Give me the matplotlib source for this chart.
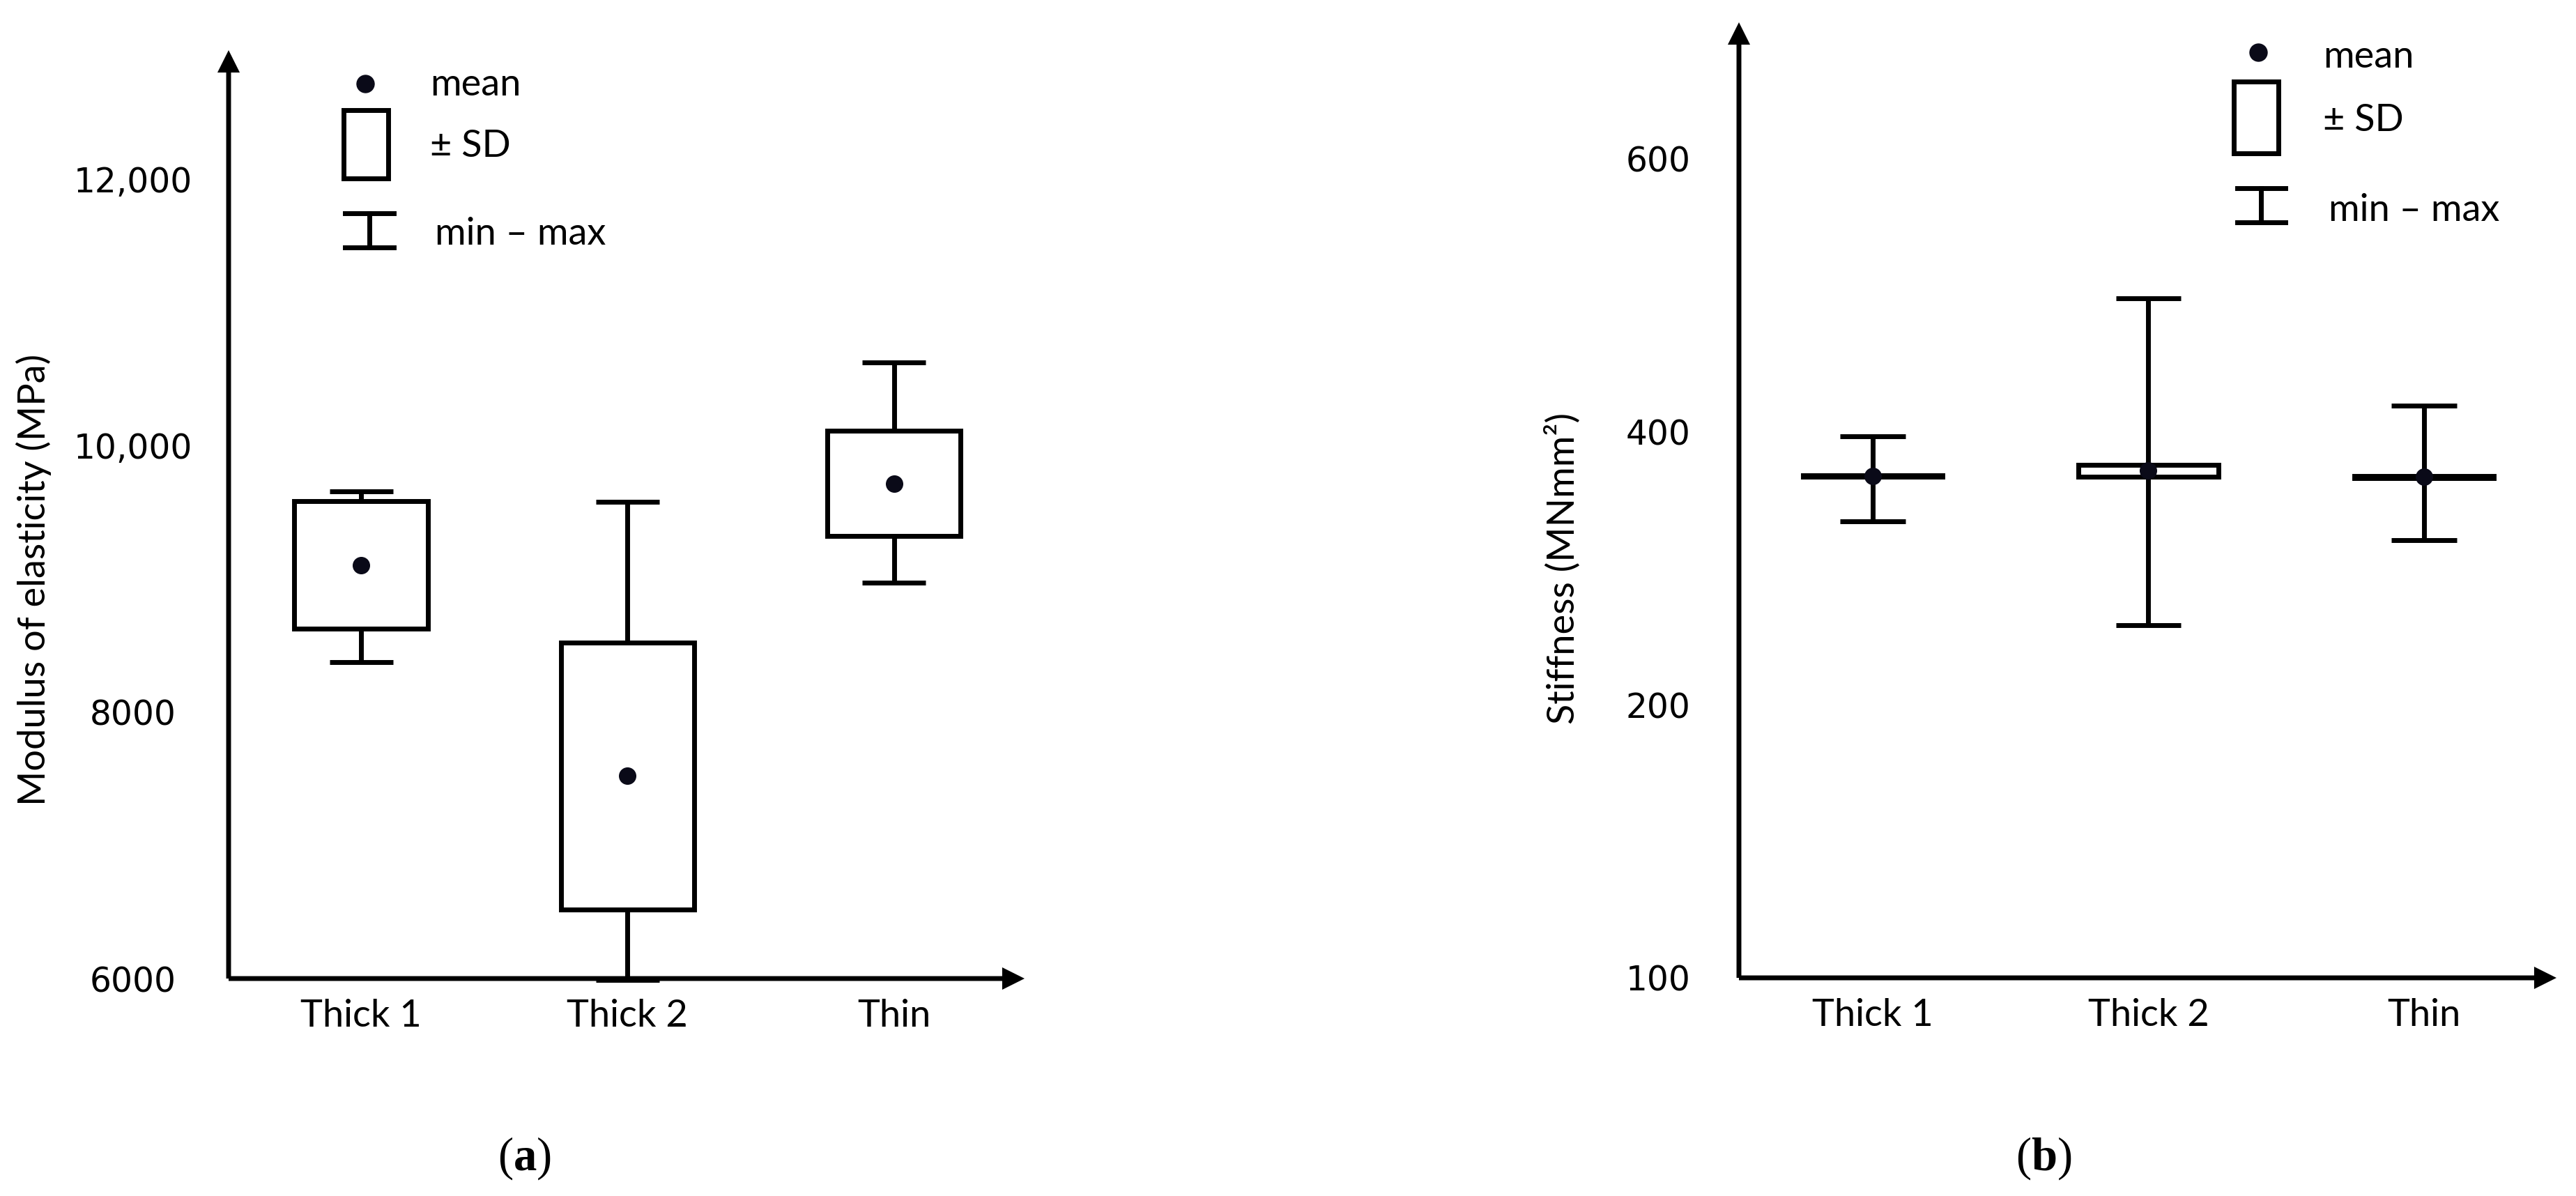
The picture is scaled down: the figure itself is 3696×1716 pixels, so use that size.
import numpy as np
import matplotlib
matplotlib.use("Agg")
import matplotlib.pyplot as plt

# ---------------- data ----------------
categories = ["Thick 1", "Thick 2", "Thin"]

# (a) Modulus of elasticity (MPa)
moe_mean = [9102, 7521, 9713]
moe_sd = [478, 1001, 395]
moe_min = [8372, 5990, 8972]
moe_max = [9653, 9578, 10624]
moe_ticks = [6000, 8000, 10000, 12000]
moe_ticklabels = ["6000", "8000", "10,000", "12,000"]

# (b) Stiffness (MNmm²)
stf_mean = [367.5, 371.5, 367.0]
stf_sd = [0.4, 4.2, 0.8]
stf_min = [334.2, 258.5, 320.5]
stf_max = [396.6, 498.0, 419.0]
stf_ticks = [100, 200, 400, 600]
stf_ticklabels = ["100", "200", "400", "600"]

legend_labels = ["mean", "± SD", "min – max"]
panel_labels = ["a", "b"]

# ---------------- style ----------------
plt.rcParams["font.family"] = ["Lato", "DejaVu Sans"]
plt.rcParams["mathtext.fontset"] = "custom"
plt.rcParams["mathtext.rm"] = "Liberation Serif"
plt.rcParams["mathtext.bf"] = "Liberation Serif:bold"

LW = 5
TXT = 39
NUM = 35
DOT = "#0a0a18"

W, H = 3696, 1716
fig = plt.figure(figsize=(W / 100, H / 100), dpi=100)


def px_axes(x0, x1, ytop, ybot):
    return fig.add_axes([x0 / W, (H - ybot) / H, (x1 - x0) / W, (ybot - ytop) / H])


def draw_axes_arrows(ax):
    for s in ax.spines.values():
        s.set_visible(False)
    ap = dict(arrowstyle="-|>,head_length=0.5,head_width=0.25", lw=LW, color="black",
              shrinkA=0, shrinkB=0, mutation_scale=30, joinstyle="miter", capstyle="butt")
    ax.annotate("", xy=(0, 1), xytext=(0, 0), xycoords="axes fraction",
                textcoords="axes fraction", arrowprops=ap, annotation_clip=False, zorder=1)
    ax.annotate("", xy=(1, 0), xytext=(0, 0), xycoords="axes fraction",
                textcoords="axes fraction", arrowprops=ap, annotation_clip=False, zorder=1)


def draw_panel(ax, mean, sd, mn, mx, box_w, cap_w):
    x = np.arange(1, len(categories) + 1)
    mean = np.asarray(mean, float)
    sd = np.asarray(sd, float)
    lo = mean - sd
    hi = mean + sd
    ax.vlines(x, mn, lo, colors="black", lw=LW, zorder=3, clip_on=False)
    ax.vlines(x, hi, mx, colors="black", lw=LW, zorder=3, clip_on=False)
    ax.hlines(mn, x - cap_w / 2, x + cap_w / 2, colors="black", lw=LW, zorder=3, clip_on=False)
    ax.hlines(mx, x - cap_w / 2, x + cap_w / 2, colors="black", lw=LW, zorder=3, clip_on=False)
    ax.bar(x, hi - lo, bottom=lo, width=box_w, color="white", edgecolor="black",
           linewidth=LW, zorder=4)
    ax.plot(x, mean, "o", ms=17, color=DOT, zorder=6)
    ax.set_xticks(x)
    ax.set_xticklabels(categories, fontsize=TXT)
    ax.tick_params(axis="x", length=0, pad=21)


def draw_legend(ax, mk, box, ibar, txt_x, txt_y):
    t = ax.transAxes
    ax.plot([mk[0]], [mk[1]], "o", ms=18, color=DOT, transform=t, clip_on=False, zorder=6)
    bx0, bx1, by0, by1 = box
    ax.plot([bx0, bx1, bx1, bx0, bx0], [by0, by0, by1, by1, by0], color="black", lw=LW,
            transform=t, clip_on=False, solid_joinstyle="miter")
    ix0, ix1, iy0, iy1 = ibar
    ixc = (ix0 + ix1) / 2
    ax.plot([ix0, ix1], [iy0, iy0], color="black", lw=LW, transform=t, clip_on=False)
    ax.plot([ix0, ix1], [iy1, iy1], color="black", lw=LW, transform=t, clip_on=False)
    ax.plot([ixc, ixc], [iy0, iy1], color="black", lw=LW, transform=t, clip_on=False)
    for lab, xx, yy in zip(legend_labels, txt_x, txt_y):
        ax.text(xx, yy, lab, transform=t, fontsize=TXT, ha="left", va="baseline")


# ---------------- panel (a) ----------------
ax1 = px_axes(328, 1470, 72, 1404)
draw_axes_arrows(ax1)
draw_panel(ax1, moe_mean, moe_sd, moe_min, moe_max, 0.5, 0.238)
ax1.set_xlim(0.503, 3.49)
ax1.set_ylim(6000, 12965)
ax1.set_yticks(moe_ticks)
ax1.set_yticklabels(moe_ticklabels, fontsize=NUM, family="DejaVu Sans")
ax1.tick_params(axis="y", length=0, pad=99)
for lab in ax1.get_yticklabels():
    lab.set_ha("center")
ax1.text(-0.2452, 0.4294, "Modulus of elasticity (MPa)", transform=ax1.transAxes,
         rotation=90, ha="center", va="center", fontsize=TXT)
draw_legend(ax1, (0.1716, 0.9640), (0.1445, 0.2005, 0.8619, 0.9354),
            (0.1462, 0.2075, 0.7875, 0.8243),
            [0.2531, 0.2531, 0.2592], [0.9512, 0.8851, 0.7905])

# ---------------- panel (b) ----------------
ax2 = px_axes(2495, 3668, 32, 1403)


def fwd(v):
    v = np.asarray(v, dtype=float)
    return np.where(v < 200, 2 * v - 200, v)


def inv(t):
    t = np.asarray(t, dtype=float)
    return np.where(t < 200, (t + 200) / 2, t)


ax2.set_yscale("function", functions=(fwd, inv))
draw_axes_arrows(ax2)
draw_panel(ax2, stf_mean, stf_sd, stf_min, stf_max, 0.506, 0.237)
ax2.set_xlim(0.515, 3.48)
ax2.set_ylim(100, 700)
ax2.set_yticks(stf_ticks)
ax2.set_yticklabels(stf_ticklabels, fontsize=NUM, family="DejaVu Sans")
ax2.yaxis.set_minor_locator(matplotlib.ticker.NullLocator())
ax2.tick_params(axis="y", length=0, pad=50)
ax2.text(-0.2165, 0.4282, "Stiffness (MNmm²)", transform=ax2.transAxes,
         rotation=90, ha="center", va="center", fontsize=TXT)
draw_legend(ax2, (0.6347, 0.9689), (0.6053, 0.6598, 0.8629, 0.9380),
            (0.6095, 0.6684, 0.7907, 0.8264),
            [0.7144, 0.7144, 0.7212], [0.9526, 0.8862, 0.7921])

# ---------------- panel labels ----------------
for lab, cx in zip(panel_labels, [752, 2932]):
    fig.text(cx / W, 1 - 1662 / H, r"($\mathbf{%s}$)" % lab, ha="center", va="center",
             fontsize=48, family="Liberation Serif")

fig.savefig("out.png", dpi=100, facecolor="white")
